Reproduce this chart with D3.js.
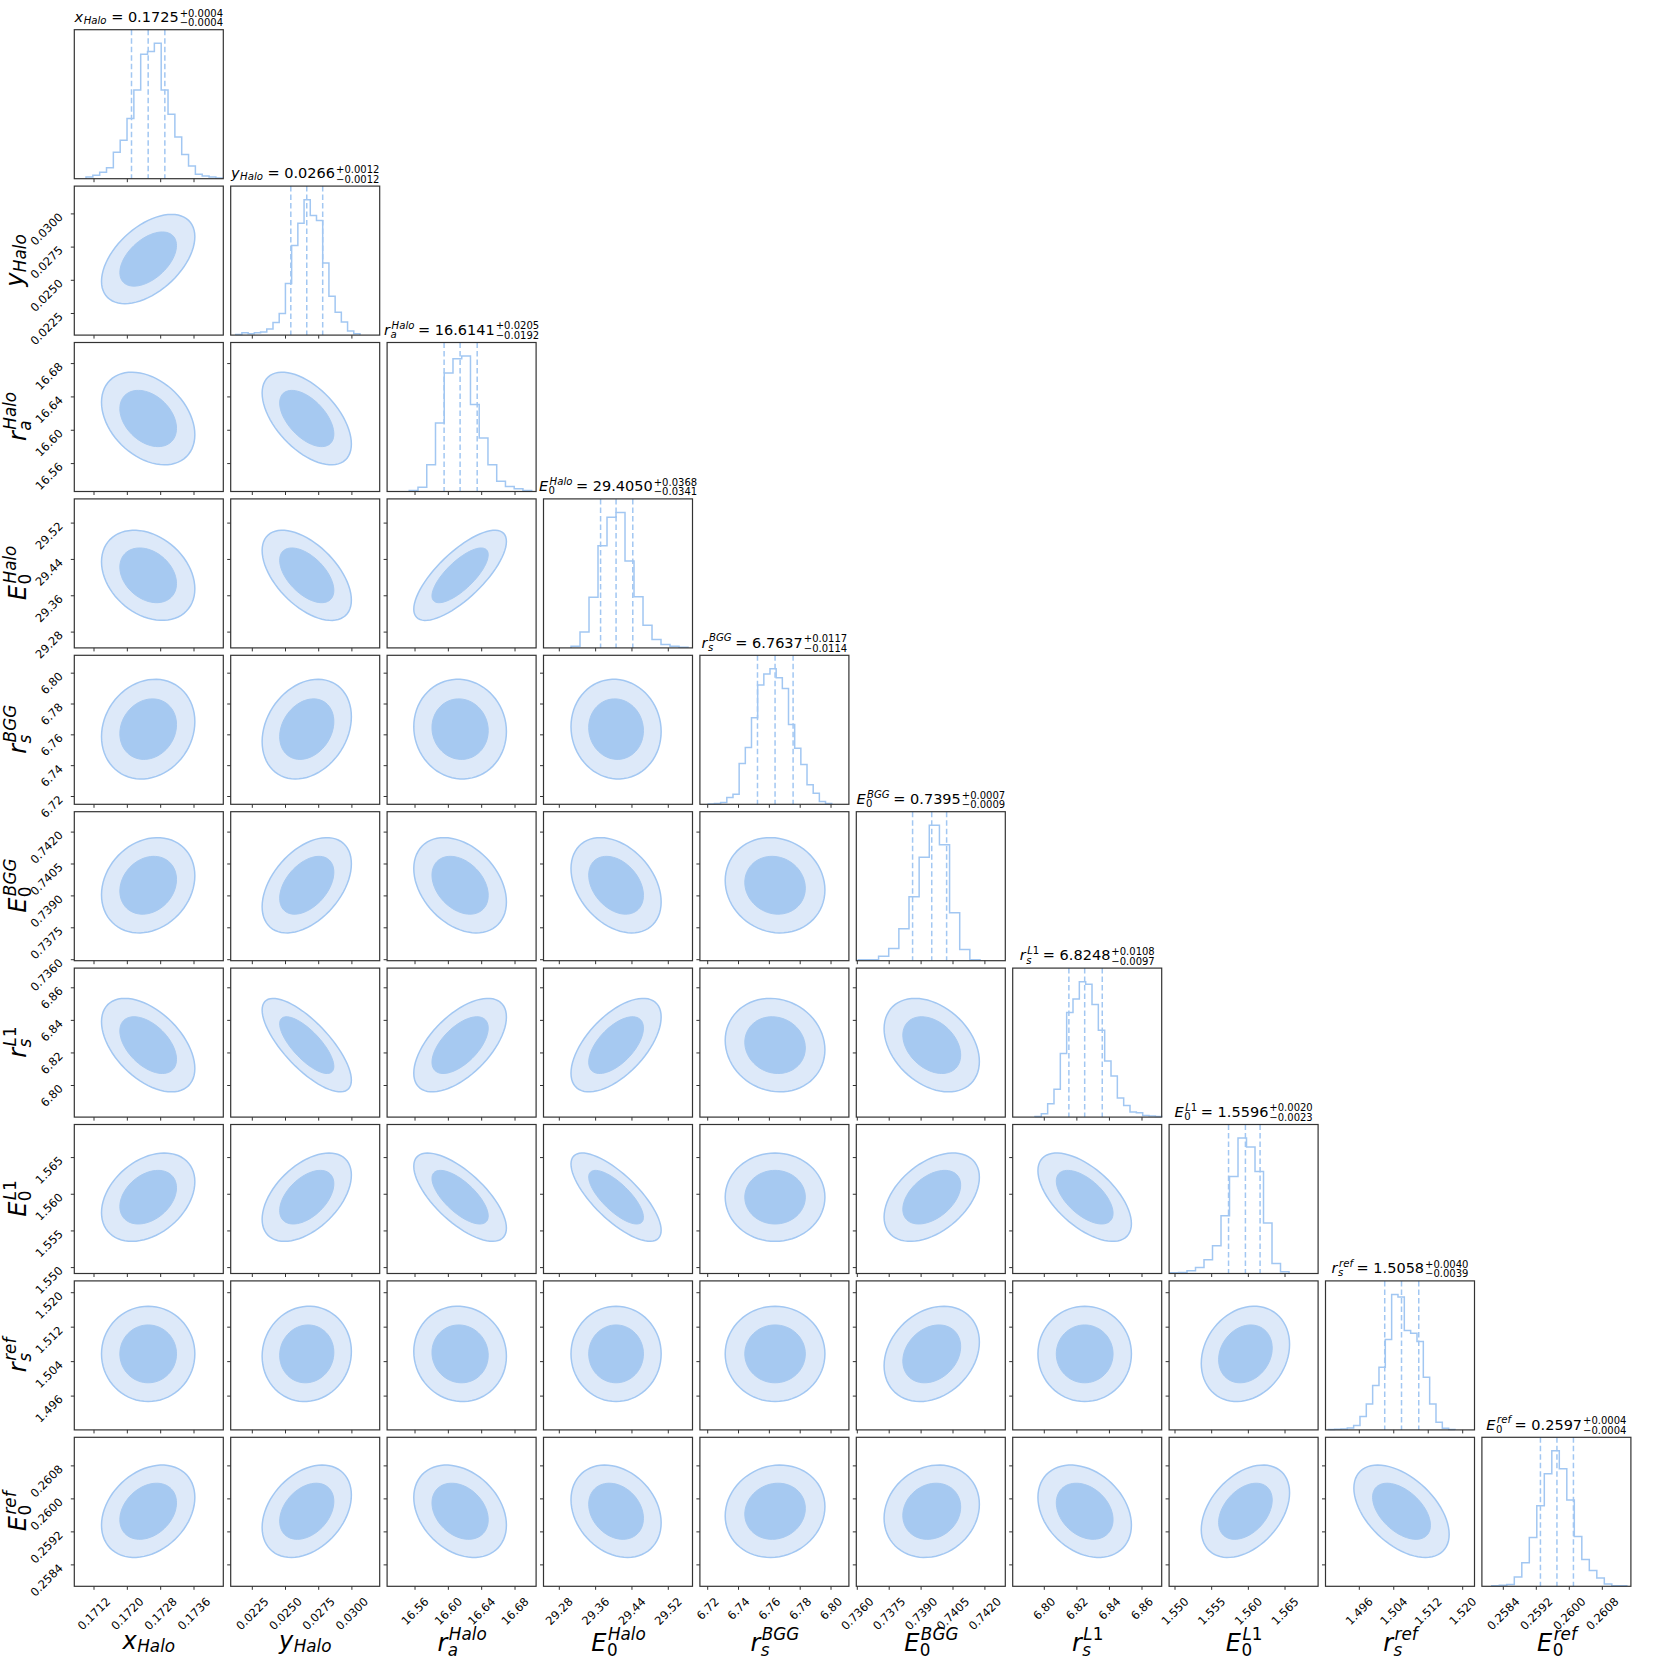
<!DOCTYPE html>
<html lang="en">
<head>
<meta charset="UTF-8">
<title>Corner plot</title>
<script src="https://d3js.org/d3.v7.min.js"></script>
<style>
  body { margin: 0; background: #fff; }
  text { font-family: "DejaVu Sans", sans-serif; fill: #000; }
</style>
</head>
<body>
<div id="corner"></div>
<script>
// parameter labels (mathtext pieces)
const labelBase = ["x", "y", "r", "E", "r", "E", "r", "E", "r", "E"];
const labelSub  = ["Halo", "Halo", "a", "0", "s", "0", "s", "0", "s", "0"];
const labelSup  = [null, null, "Halo", "Halo", "BGG", "BGG", "L1", "L1", "ref", "ref"];

// titles: median and 16/84 offsets
const titleValue = ["0.1725", "0.0266", "16.6141", "29.4050", "6.7637", "0.7395", "6.8248", "1.5596", "1.5058", "0.2597"];
const titlePlus  = ["0.0004", "0.0012", "0.0205", "0.0368", "0.0117", "0.0007", "0.0108", "0.0020", "0.0040", "0.0004"];
const titleMinus = ["0.0004", "0.0012", "0.0192", "0.0341", "0.0114", "0.0009", "0.0097", "0.0023", "0.0039", "0.0004"];

// axis limits of every parameter
const axisRanges = [
  [0.170727, 0.174303], [0.020873, 0.032093], [16.5265, 16.7053], [29.2452, 29.5733],
  [6.71494, 6.8116], [0.735953, 0.742959], [6.7806, 6.8721], [1.549195, 1.56951],
  [1.488155, 1.52274], [0.257881, 0.261493]
];

const tickLabels = [
  ["0.1712", "0.1720", "0.1728", "0.1736"],
  ["0.0225", "0.0250", "0.0275", "0.0300"],
  ["16.56", "16.60", "16.64", "16.68"],
  ["29.28", "29.36", "29.44", "29.52"],
  ["6.72", "6.74", "6.76", "6.78", "6.80"],
  ["0.7360", "0.7375", "0.7390", "0.7405", "0.7420"],
  ["6.80", "6.82", "6.84", "6.86"],
  ["1.550", "1.555", "1.560", "1.565"],
  ["1.496", "1.504", "1.512", "1.520"],
  ["0.2584", "0.2592", "0.2600", "0.2608"]
];

// histogram extent and bin heights
const histSpan = [
  [0.171008, 0.174289], [0.02125, 0.030609], [16.5531, 16.7000], [29.3058, 29.5634],
  [6.72039, 6.80044], [0.736047, 0.741769], [6.79429, 6.87209], [1.549318, 1.565544],
  [1.488805, 1.518212], [0.258121, 0.261394]
];
const histCounts = [
  [5, 10, 19, 33, 79, 115, 180, 265, 372, 380, 405, 265, 193, 125, 72, 38, 13, 8, 5, 2],
  [2, 7, 4, 7, 9, 18, 38, 65, 155, 269, 336, 407, 359, 344, 217, 117, 69, 39, 12, 4],
  [3, 13, 80, 205, 355, 398, 406, 261, 160, 80, 31, 15, 8, 3],
  [5, 47, 150, 303, 388, 402, 258, 152, 67, 25, 10, 5, 2],
  [1, 2, 5, 20, 30, 121, 168, 256, 353, 386, 401, 375, 343, 236, 166, 118, 58, 33, 8, 2],
  [3, 3, 13, 36, 95, 190, 308, 403, 345, 143, 33, 3],
  [2, 10, 40, 83, 190, 313, 353, 405, 397, 337, 260, 168, 123, 57, 35, 15, 13, 5, 3, 2],
  [2, 3, 8, 18, 41, 83, 173, 290, 405, 378, 305, 151, 30, 5],
  [1, 2, 3, 6, 13, 40, 78, 133, 188, 271, 406, 398, 298, 290, 265, 158, 78, 23, 5, 1],
  [2, 3, 5, 28, 70, 145, 240, 335, 403, 350, 257, 148, 80, 47, 25, 7, 2, 2]
];

const corr = [
  [],
  [0.5],
  [-0.35, -0.55],
  [-0.3, -0.55, 0.75],
  [0.15, 0.25, -0.05, -0.05],
  [0.2, 0.45, -0.35, -0.35, -0.1],
  [-0.5, -0.75, 0.6, 0.6, -0.1, -0.35],
  [0.35, 0.5, -0.7, -0.75, 0.0, 0.45, -0.6],
  [0.0, 0.05, -0.05, 0.0, 0.0, 0.25, 0.0, 0.2],
  [0.3, 0.35, -0.3, -0.25, 0.1, 0.15, -0.3, 0.4, -0.5]
];
// contour levels in units of the marginal sigma
const levels = [2.8, 1.7];

// layout
const size = 149, step = 156.4, left0 = 74.3, top0 = 29.7;
const n = labelBase.length;
const lineColor = "#a2c7f2", fillInner = "#a6c9f1", fillOuter = "#dde9f9", frameColor = "#333";

const svg = d3.select("#corner").append("svg")
  .attr("width", 1661)
  .attr("height", 1661);

const xs = axisRanges.map(r => d3.scaleLinear().domain(r).range([0, size]));
const ys = axisRanges.map(r => d3.scaleLinear().domain(r).range([size, 0]));
const med = titleValue.map(Number);
const sig = titlePlus.map((p, k) => (+p + +titleMinus[k]) / 2);

// text with italic letters and upright digits, like mathtext
function addRuns(g, str, x, y, fs) {
  const t = g.append("text").attr("x", x).attr("y", y).attr("font-size", fs);
  str.match(/[A-Za-z]+|[^A-Za-z]+/g).forEach(run => {
    t.append("tspan")
      .attr("font-style", /[A-Za-z]/.test(run) ? "italic" : "normal")
      .text(run);
  });
  return t.node().getComputedTextLength();
}

function drawMath(g, k, fs) {
  let w = addRuns(g, labelBase[k], 0, 0, fs);
  const s = fs * 0.7;
  let ws = 0, wp = 0;
  if (labelSub[k]) ws = addRuns(g, labelSub[k], w + 0.5, labelSup[k] ? fs * 0.22 : fs * 0.12, s);
  if (labelSup[k]) wp = addRuns(g, labelSup[k], w + 1.5, -fs * 0.43, s);
  return w + 0.5 + Math.max(ws, wp);
}

for (let i = 0; i < n; i++) {
  for (let j = 0; j <= i; j++) {
    const g = svg.append("g")
      .attr("transform", `translate(${left0 + j * step},${top0 + i * step})`);
    const x = xs[j];

    if (i === j) {
      // histogram
      const counts = histCounts[i];
      const hs = histSpan[i];
      const bw = (hs[1] - hs[0]) / counts.length;
      const yh = d3.scaleLinear().domain([0, 1.1 * d3.max(counts)]).range([size, 0]);
      const pts = [[hs[0], 0]];
      counts.forEach((c, k) => {
        pts.push([hs[0] + k * bw, c], [hs[0] + (k + 1) * bw, c]);
      });
      pts.push([hs[1], 0]);
      g.append("path")
        .attr("d", d3.line().x(d => x(d[0])).y(d => yh(d[1]))(pts))
        .attr("fill", "none")
        .attr("stroke", lineColor)
        .attr("stroke-width", 1.5);

      // quantile lines
      [med[i] - +titleMinus[i], med[i], med[i] + +titlePlus[i]].forEach(q => {
        g.append("line")
          .attr("x1", x(q)).attr("x2", x(q))
          .attr("y1", 0).attr("y2", size)
          .attr("stroke", lineColor)
          .attr("stroke-width", 1.5)
          .attr("stroke-dasharray", "5.5,3");
      });
    } else {
      // 2d contours
      const y = ys[i];
      const rho = corr[i][j];
      const ell = r => d3.range(0, 72).map(a => {
        const t = a / 72 * 2 * Math.PI;
        const u = r * Math.cos(t), v = r * Math.sin(t);
        return [med[j] + sig[j] * u, med[i] + sig[i] * (rho * u + Math.sqrt(1 - rho * rho) * v)];
      });
      const line = d3.line().x(d => x(d[0])).y(d => y(d[1])).curve(d3.curveLinearClosed);
      g.append("path").attr("d", line(ell(levels[0])))
        .attr("fill", fillOuter).attr("stroke", lineColor).attr("stroke-width", 1.5);
      g.append("path").attr("d", line(ell(levels[1])))
        .attr("fill", fillInner).attr("stroke", fillInner).attr("stroke-width", 1);

      // y ticks
      tickLabels[i].forEach(tl => {
        g.append("line")
          .attr("x1", 0).attr("x2", -3.5)
          .attr("y1", y(+tl)).attr("y2", y(+tl))
          .attr("stroke", frameColor);
      });
      if (j === 0) {
        tickLabels[i].forEach(tl => {
          g.append("text")
            .attr("font-size", 11.5)
            .attr("text-anchor", "end")
            .attr("dominant-baseline", "central")
            .attr("transform", `translate(-13.5,${y(+tl) + 1}) rotate(-45)`)
            .text(tl);
        });
      }
    }

    // x ticks
    tickLabels[j].forEach(tl => {
      g.append("line")
        .attr("x1", x(+tl)).attr("x2", x(+tl))
        .attr("y1", size).attr("y2", size + 3.5)
        .attr("stroke", frameColor);
    });
    if (i === n - 1) {
      tickLabels[j].forEach(tl => {
        const t = g.append("text")
          .attr("font-size", 11.5)
          .attr("text-anchor", "middle")
          .attr("dominant-baseline", "central")
          .text(tl);
        const L = t.node().getComputedTextLength();
        t.attr("transform", `translate(${x(+tl)},${size + 10.4 + (L + 8) * 0.3536}) rotate(-45)`);
      });
    }

    // frame
    g.append("rect")
      .attr("width", size).attr("height", size)
      .attr("fill", "none")
      .attr("stroke", frameColor)
      .attr("stroke-width", 1.2);
  }
}

// titles above the diagonal
for (let i = 0; i < n; i++) {
  const g = svg.append("g");
  let w = drawMath(g, i, 14.5);
  const rest = g.append("text").attr("x", w).attr("y", 0).attr("font-size", 14.5)
    .attr("xml:space", "preserve").text(" = " + titleValue[i]);
  w += rest.node().getComputedTextLength() + 1;
  const sp = g.append("text").attr("x", w).attr("y", -5.5).attr("font-size", 10).text("+" + titlePlus[i]);
  const sm = g.append("text").attr("x", w).attr("y", 4.2).attr("font-size", 10).text("\u2212" + titleMinus[i]);
  w += Math.max(sp.node().getComputedTextLength(), sm.node().getComputedTextLength());
  g.attr("transform", `translate(${left0 + i * step + size / 2 - w / 2},${top0 + i * step - 7.7})`);
}

// x axis labels
for (let j = 0; j < n; j++) {
  const g = svg.append("g");
  const w = drawMath(g, j, 24);
  const base = labelSup[j] ? 1650.5 : 1649;
  g.attr("transform", `translate(${left0 + j * step + size / 2 - w / 2},${base})`);
}

// y axis labels
for (let i = 1; i < n; i++) {
  const bx = labelSup[i] ? 26 : 23;
  const outer = svg.append("g")
    .attr("transform", `translate(${bx},${top0 + i * step + size / 2}) rotate(-90)`);
  const g = outer.append("g");
  const w = drawMath(g, i, 24);
  g.attr("transform", `translate(${-w / 2},0)`);
}
</script>
</body>
</html>
